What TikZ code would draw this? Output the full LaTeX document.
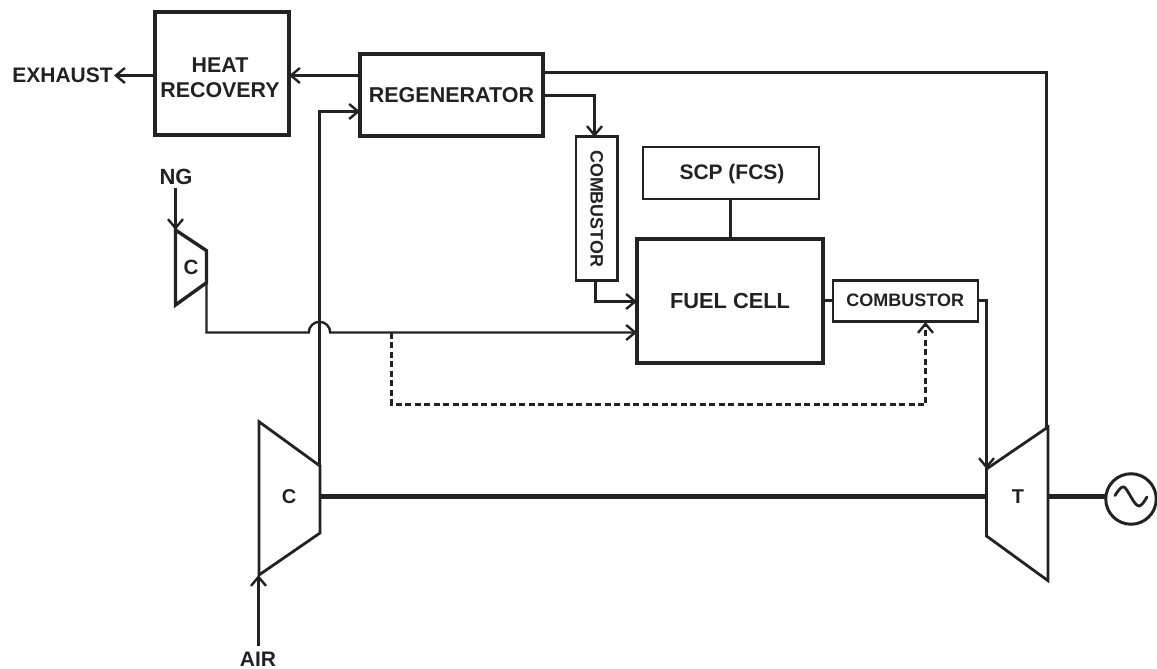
\documentclass[tikz,border=0pt]{standalone}
\usepackage{fontspec}
\setmainfont{Liberation Sans}
\usetikzlibrary{arrows.meta}
\definecolor{ink}{HTML}{222222}
\tikzset{
  ink line/.style={draw=ink,line width=2.4pt,line join=miter},
  flow/.style={ink line,-{Straight Barb[length=9pt,width=15pt,line width=2.4pt]}},
  box/.style={draw=ink,line width=3.4pt,outer sep=0pt,inner sep=0pt,align=center,text=ink,font=\fontsize{20.6}{24}\selectfont\bfseries},
  thinbox/.style={box,line width=2.8pt},
  lbl/.style={text=ink,inner sep=0pt,align=center,font=\fontsize{20.6}{24}\selectfont\bfseries},
  shaft/.style={draw=ink,line width=5.5pt},
  machine/.style={draw=ink,line width=2.8pt,line join=miter},
  dashflow/.style={ink line,dash pattern=on 6pt off 3.5pt,-{Straight Barb[length=9pt,width=15pt,line width=2.4pt]}}
}
\begin{document}
\begin{tikzpicture}[x=1pt,y=-1pt]
\useasboundingbox (0,0) rectangle (1157,669);
% boxes
\node[box,minimum width=134pt,minimum height=123pt] (heat) at (222,73.5) {};
\node[lbl,font=\fontsize{21.4}{25}\selectfont\bfseries] (heatt) at (220,78) {HEAT\\RECOVERY};
\node[box,minimum width=183pt,minimum height=82pt,font=\fontsize{21.5}{24}\selectfont\bfseries] (regen) at (451.5,95) {REGENERATOR};
\node[thinbox,minimum width=41.5pt,minimum height=144pt] (combv) at (596.7,208.7) {};
\node[lbl,rotate=-90,font=\fontsize{17.9}{20}\selectfont\bfseries] (combvt) at (596.9,208.7) {COMBUSTOR};
\node[thinbox,minimum width=176pt,minimum height=52pt] (scp) at (731,173) {};
\node[lbl,font=\fontsize{21}{24}\selectfont\bfseries] (scpt) at (732,174) {SCP (FCS)};
\node[box,minimum width=186pt,minimum height=124pt,font=\fontsize{21.8}{24}\selectfont\bfseries] (fc) at (730,301) {FUEL CELL};
\node[thinbox,minimum width=145pt,minimum height=41pt] (combh) at (905.5,301.2) {};
\node[lbl,font=\fontsize{18}{20}\selectfont\bfseries] (combht) at (905.3,300.6) {COMBUSTOR};
% labels
\node[lbl,font=\fontsize{21}{24}\selectfont\bfseries] (exh) at (62.5,75) {EXHAUST};
\node[lbl,font=\fontsize{22}{24}\selectfont\bfseries] (ng) at (176,177) {NG};
\node[lbl,font=\fontsize{21}{24}\selectfont\bfseries] (air) at (258,659) {AIR};
\node[lbl] (csmall) at (191,267) {C};
\node[lbl,font=\fontsize{20}{24}\selectfont\bfseries] (cbig) at (289,497) {C};
\node[lbl,font=\fontsize{20}{24}\selectfont\bfseries] (tlab) at (1018,497) {T};
% machines
\coordinate (nga) at (175.5,230);
\coordinate (ngb) at (206.5,250.7);
\coordinate (ngc) at (206.5,282.7);
\coordinate (ngd) at (175.5,305);
\draw[machine,line width=3.4pt] (nga) -- (ngb) -- (ngc) -- (ngd) -- cycle;
\coordinate (ca) at (259,421.7);
\coordinate (cb) at (320,466);
\coordinate (cc) at (320,533);
\coordinate (cd) at (259,575);
\draw[machine] (ca) -- (cb) -- (cc) -- (cd) -- cycle;
\coordinate (ta) at (986.5,469);
\coordinate (tb) at (1048,427);
\coordinate (tc) at (1048,580.7);
\coordinate (td) at (986.5,536);
\draw[machine] (ta) -- (tb) -- (tc) -- (td) -- cycle;
% generator
\node[circle,draw=ink,line width=3pt,minimum size=50.5pt,inner sep=0pt,outer sep=0pt] (gen) at (1131,499) {};
\draw[ink line,line width=2.8pt,line cap=round] (1115,495.5) .. controls (1119,489) and (1122,486) .. (1124,487) .. controls (1128,489) and (1134,506) .. (1139,506) .. controls (1142,506) and (1145,500) .. (1147,497);
% shaft
\coordinate (s1) at (321,496.3);
\coordinate (s2) at (986,496.3);
\coordinate (s3) at (1049,496.3);
\draw[shaft] (s1) -- (s2);
\draw[shaft] (s3) -- (gen.west |- s3);
% connectors
\coordinate (rh) at (regen.west |- 0,75.5);
\coordinate (hr) at (heat.east |- 0,75.5);
\draw[flow] (rh) -- (hr);
\coordinate (he) at (heat.west |- 0,75.5);
\coordinate (ee) at (114,75.5);
\draw[flow] (he) -- (ee);
\coordinate (airfrom) at (258.5,646);
\coordinate (airto) at (258.5,575);
\draw[flow] (airfrom) -- (airto);
\coordinate (ngfrom) at (175.5,188);
\draw[flow] (ngfrom) -- (nga);
\coordinate (regenin) at (regen.west |- 0,111.5);
\draw[flow] (319.5,466) |- (regenin);
\coordinate (regenout) at (regen.east |- 0,95.5);
\coordinate (combtop) at (594.5,137);
\draw[flow] (regenout) -| (combtop);
\coordinate (combbot) at (595.5,280.7);
\coordinate (fcin1) at (fc.west |- 0,301.5);
\draw[flow] (combbot) |- (fcin1);
\coordinate (fcin2) at (fc.west |- 0,332.5);
\coordinate (archl) at (308.8,332.5);
\draw[flow] (ngc) -- (206.5,332.5) -- (archl) arc[start angle=180,end angle=0,radius=10.7pt] -- (fcin2);
\coordinate (dashstart) at (391.5,332.5);
\coordinate (combhb) at (925.5,322);
\draw[dashflow] (dashstart) -- (391.5,404.5) -| (combhb);
\coordinate (scpb) at (730.5,199);
\coordinate (fct) at (730.5,239);
\draw[ink line] (scpb) -- (fct);
\coordinate (fcr) at (fc.east |- 0,300.5);
\coordinate (chl) at (combh.west |- 0,300.5);
\draw[ink line] (fcr) -- (chl);
\coordinate (chr) at (combh.east |- 0,300.5);
\draw[flow] (chr) -- (986.5,300.5) -- (ta);
\coordinate (regtop) at (regen.east |- 0,72.5);
\draw[ink line] (regtop) -- (1046.5,72.5) -- (1046.5,427);
\end{tikzpicture}
\end{document}
